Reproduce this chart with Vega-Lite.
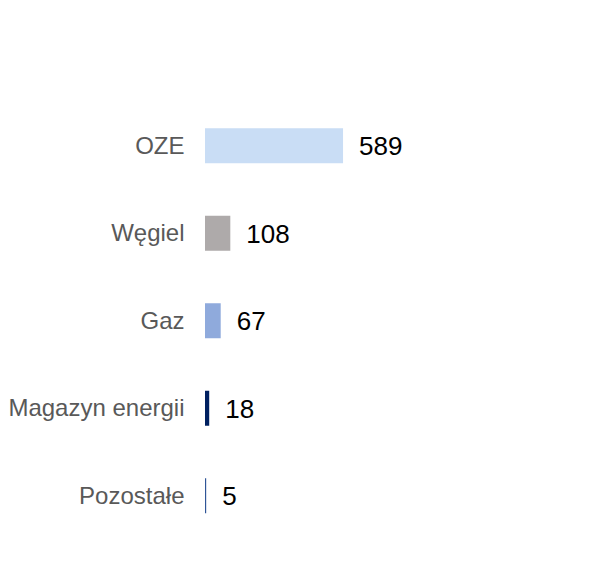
{
  "$schema": "https://vega.github.io/schema/vega-lite/v6.json",
  "autosize": {"type": "none"},
  "padding": {"left": 205, "top": 102, "right": 0, "bottom": 0},
  "width": 300,
  "height": 437.5,
  "background": "white",
  "config": {"view": {"stroke": null}, "font": "Liberation Sans"},
  "data": {"values": [
    {"kategoria": "OZE", "wartosc": 589, "kolor": "#c9ddf5"},
    {"kategoria": "Węgiel", "wartosc": 108, "kolor": "#aeaaaa"},
    {"kategoria": "Gaz", "wartosc": 67, "kolor": "#8faadc"},
    {"kategoria": "Magazyn energii", "wartosc": 18, "kolor": "#002060"},
    {"kategoria": "Pozostałe", "wartosc": 5, "kolor": "#2f5597"}
  ]},
  "encoding": {
    "y": {
      "field": "kategoria", "type": "nominal", "sort": null,
      "scale": {"paddingInner": 0.6, "paddingOuter": 0.3},
      "axis": {"title": null, "domain": false, "ticks": false, "tickSize": 0, "labelPadding": 21, "labelOffset": 1, "labelFontSize": 24, "labelColor": "#595959", "labelFont": "Liberation Sans", "labelLimit": 300}
    },
    "x": {
      "field": "wartosc", "type": "quantitative",
      "scale": {"domain": [0, 1280]},
      "axis": null
    }
  },
  "layer": [
    {"mark": {"type": "bar"}, "encoding": {"color": {"field": "kolor", "type": "nominal", "scale": null}}},
    {"mark": {"type": "text", "align": "left", "baseline": "middle", "dx": 16, "dy": 1.5, "fontSize": 26, "color": "#000000", "font": "Liberation Sans"},
     "encoding": {"text": {"field": "wartosc", "type": "quantitative"}}}
  ]
}
